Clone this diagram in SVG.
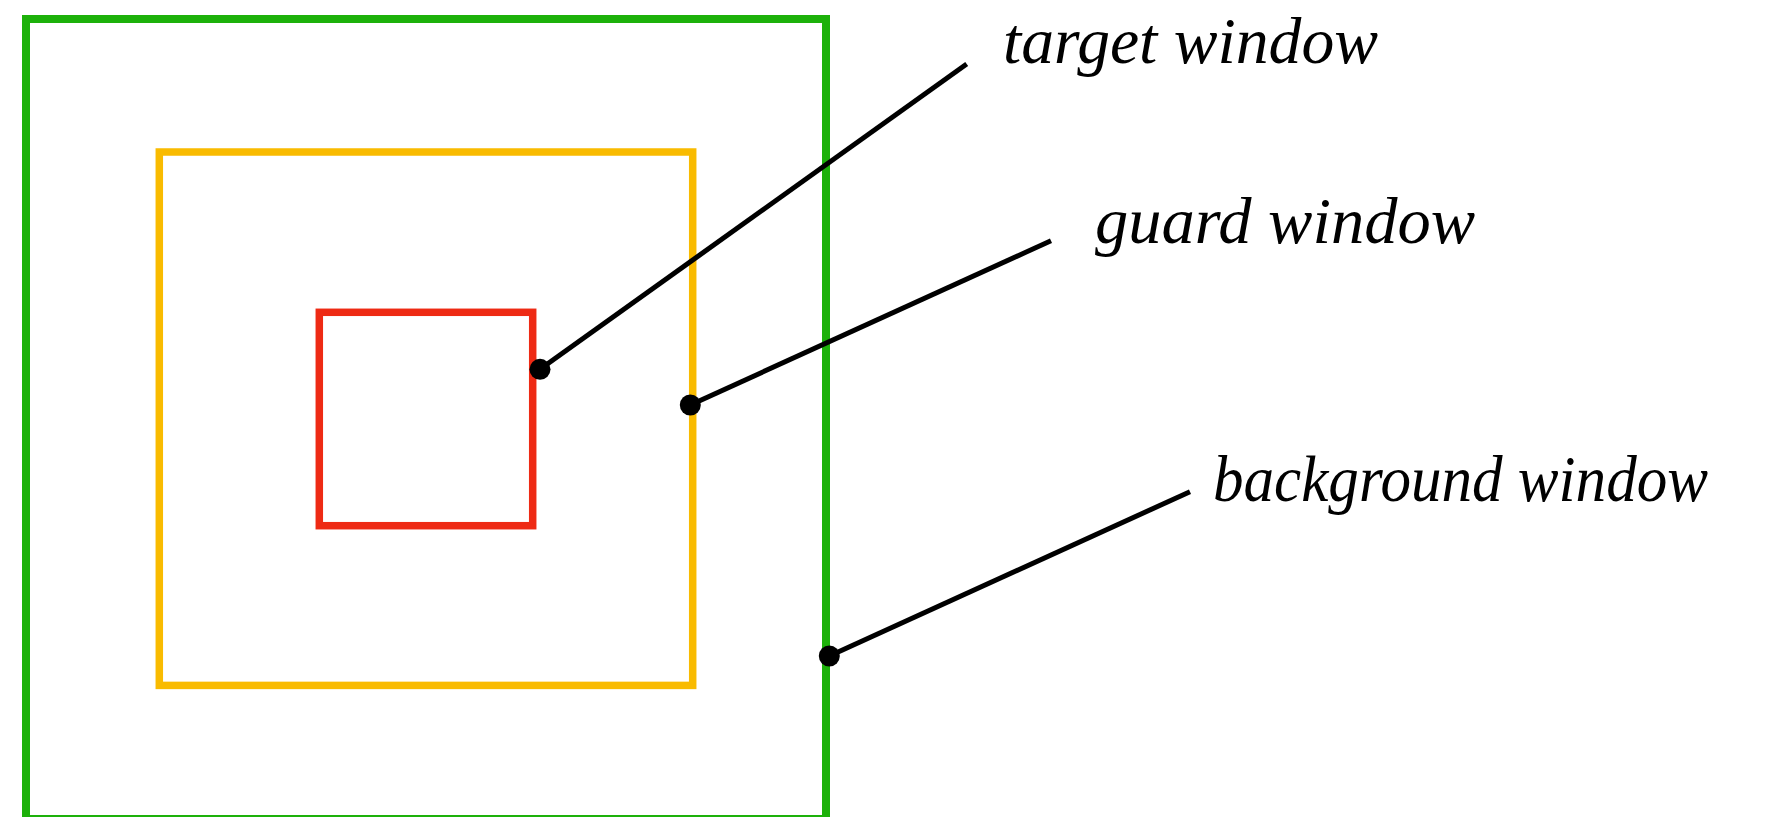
<svg xmlns="http://www.w3.org/2000/svg" width="1772" height="817" viewBox="0 0 1772 817">
<style>
.win{fill:none;stroke-linejoin:miter}
.lbl{font-family:"Liberation Serif","DejaVu Serif",serif;font-style:italic;font-size:66px;fill:#000}
.con{stroke:#000;stroke-width:5;fill:none}
.dot{fill:#000}
</style>
<rect width="1772" height="817" fill="#fff"/>
<g id="background-window"><rect class="win" x="26" y="19" width="800" height="800" stroke="#1DB10A" stroke-width="8"/></g>
<g id="guard-window"><rect class="win" x="159.3" y="152" width="533.4" height="533.4" stroke="#F9BB00" stroke-width="7.5"/></g>
<g id="target-window"><rect class="win" x="319.3" y="312.3" width="213.4" height="213.4" stroke="#EE2A14" stroke-width="7.5"/></g>
<g id="connectors">
<line class="con" x1="540" y1="369.3" x2="966.7" y2="64"/>
<line class="con" x1="690.3" y1="405" x2="1051" y2="240.7"/>
<line class="con" x1="829.3" y1="656" x2="1190" y2="491.7"/>
<circle class="dot" cx="540" cy="369.3" r="10.5"/>
<circle class="dot" cx="690.3" cy="405" r="10.5"/>
<circle class="dot" cx="829.3" cy="656" r="10.5"/>
</g>
<g id="label-target"><text class="lbl" x="1003" y="63" textLength="375" lengthAdjust="spacingAndGlyphs">target window</text></g>
<g id="label-guard"><text class="lbl" x="1095" y="243" textLength="380" lengthAdjust="spacingAndGlyphs">guard window</text></g>
<g id="label-background"><text class="lbl" x="1213" y="500.5" textLength="495" lengthAdjust="spacingAndGlyphs">background window</text></g>
</svg>
